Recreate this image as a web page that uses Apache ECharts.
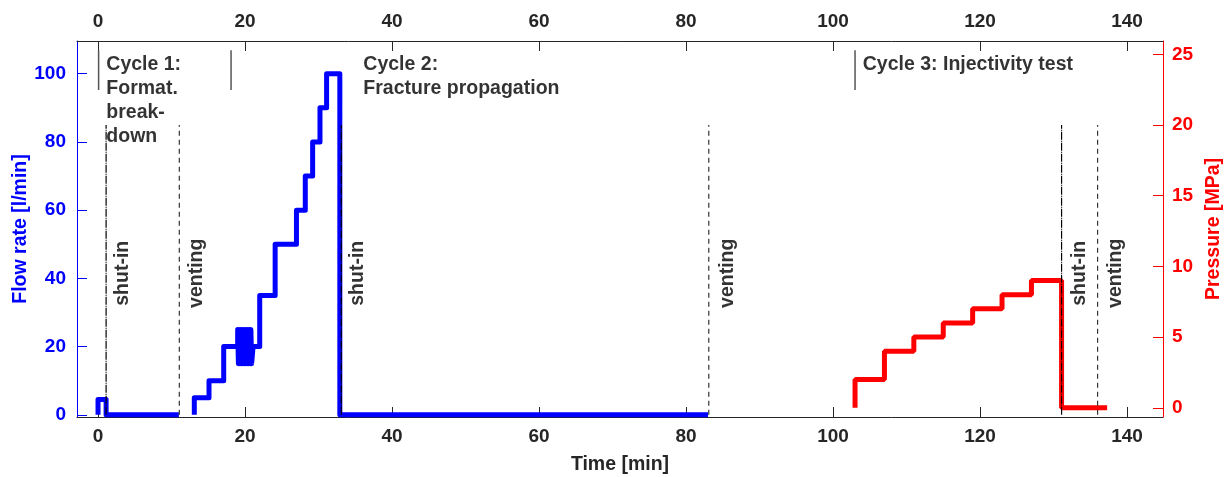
<!DOCTYPE html>
<html>
<head>
<meta charset="utf-8">
<script src="https://cdn.jsdelivr.net/npm/echarts@6/dist/echarts.min.js"></script>
<style>
  html, body { margin: 0; padding: 0; background: #fff; }
  #chart { width: 1231px; height: 477px; }
</style>
</head>
<body>
<div id="chart"></div>
<script>
// time axis ticks [min]
var timeTicks = [0, 20, 40, 60, 80, 100, 120, 140];
var flowTicks = [0, 20, 40, 60, 80, 100];
var pressureTicks = [0, 5, 10, 15, 20, 25];

// flow rate, cycle 1 (value holds until the next time)
var flowTime1 = [0, 0, 1.1, 11];
var flowRate1 = [0, 4.5, 0, 0];

// flow rate, cycle 2 (the 19-21 min part flickers between 15 and 25)
var flowTime2 = [13.1, 13.1, 15.1, 17.1,
  19.0, 19.1, 19.2, 19.3, 19.4, 19.5, 19.6, 19.7, 19.8, 19.9,
  20.0, 20.1, 20.2, 20.3, 20.4, 20.5, 20.6, 20.7, 20.8, 20.9,
  21.1, 22.0, 24.1, 27.0, 28.2, 29.2, 30.2, 31.1, 32.9, 83.0];
var flowRate2 = [0, 5, 10, 20,
  25, 15, 25, 15, 25, 15, 25, 15, 25, 15,
  25, 15, 25, 15, 25, 15, 25, 15, 25, 15,
  20, 35, 50, 60, 70, 80, 90, 100, 0, 0];

// pressure, cycle 3 (injectivity test)
var pressTime = [103, 103, 107, 111, 115, 119, 123, 127, 131.1, 137.3];
var pressValue = [0, 2, 4, 5, 6, 7, 8, 9, 0, 0];

// shut-in / venting events
var eventTime = [1.1, 11.06, 33.1, 83.1, 131.1, 136];
var eventName = ["shut-in", "venting", "shut-in", "venting", "shut-in", "venting"];
var eventLabelTime = [3.4, 13.4, 35.3, 85.6, 133.6, 138.4];
var eventTop = 85;
var eventLabelFlow = 41.5;

// cycle separators and titles
var cycleTime = [0.08, 18.1, 103];
var cycleLineFlow = [95.2, 106.9];
var cycleTextTime = [1.13, 36.1, 104.05];
var cycleTextFlow = 106.1;
var cycleText = ["Cycle 1:\nFormat.\nbreak-\ndown", "Cycle 2:\nFracture propagation", "Cycle 3: Injectivity test"];

var FONT = "'Liberation Sans', Arial, sans-serif";

function pairs(xs, ys) {
  var out = [];
  for (var i = 0; i < xs.length; i++) out.push([xs[i], ys[i]]);
  return out;
}

var series = [
  {
    name: "flow1", type: "line", step: "end", symbol: "none",
    xAxisIndex: 0, yAxisIndex: 0,
    data: pairs(flowTime1, flowRate1),
    lineStyle: { color: "#0000ff", width: 5, join: "round" },
    z: 5,
  },
  {
    name: "flow2", type: "line", step: "end", symbol: "none",
    xAxisIndex: 0, yAxisIndex: 0,
    data: pairs(flowTime2, flowRate2),
    lineStyle: { color: "#0000ff", width: 5, join: "round" },
    z: 5,
  },
  {
    name: "pressure", type: "line", step: "end", symbol: "none",
    xAxisIndex: 0, yAxisIndex: 1,
    data: pairs(pressTime, pressValue),
    lineStyle: { color: "#ff0000", width: 5 },
    z: 5,
  },
];

// vertical event lines
eventTime.forEach(function (t, i) {
  var isShut = eventName[i] == "shut-in";
  series.push({
    type: "line", symbol: "none", silent: true,
    xAxisIndex: 0, yAxisIndex: 0,
    data: [[t, 0], [t, eventTop]],
    lineStyle: {
      color: isShut ? "#000" : "#333",
      width: 1.2,
      type: isShut ? [8, 1, 1, 1] : [5, 4],
    },
    z: 6,
  });
});

// cycle separator lines
cycleTime.forEach(function (t) {
  series.push({
    type: "line", symbol: "none", silent: true,
    xAxisIndex: 0, yAxisIndex: 0,
    data: [[t, cycleLineFlow[0]], [t, cycleLineFlow[1]]],
    lineStyle: { color: "#555", width: 1.5 },
  });
});

// event labels (rotated)
series.push({
  type: "scatter", symbolSize: 0, silent: true,
  xAxisIndex: 0, yAxisIndex: 0,
  data: eventLabelTime.map(function (t, i) {
    return { value: [t, eventLabelFlow], name: eventName[i] };
  }),
  label: {
    show: true, position: "inside", rotate: 90,
    align: "center", verticalAlign: "middle",
    formatter: "{b}",
    color: "#000", fontFamily: FONT, fontWeight: "bold", fontSize: 19.5,
  },
  z: 7,
});

// cycle titles
series.push({
  type: "scatter", symbolSize: 0, silent: true,
  xAxisIndex: 0, yAxisIndex: 0,
  data: cycleTextTime.map(function (t, i) {
    return { value: [t, cycleTextFlow], name: cycleText[i] };
  }),
  label: {
    show: true, position: [0, 0],
    align: "left", verticalAlign: "top",
    formatter: "{b}", lineHeight: 24,
    color: "#000", fontFamily: FONT, fontWeight: "bold", fontSize: 19.5,
  },
  z: 7,
});

var xCommon = {
  type: "value", min: -2.86, max: 144.9,
  splitLine: { show: false },
  axisLine: { show: true, onZero: false, lineStyle: { color: "#262626", width: 1 } },
  axisTick: { show: true, inside: true, length: 10, customValues: timeTicks, lineStyle: { color: "#262626" } },
  axisLabel: { customValues: timeTicks, color: "#262626", fontFamily: FONT, fontWeight: "bold", fontSize: 19, margin: 10 },
};

var option = {
  animation: false,
  backgroundColor: "#fff",
  grid: { left: 77, right: 68, top: 41, bottom: 60, outerBoundsMode: "none" },
  xAxis: [
    Object.assign({}, xCommon, {
      position: "bottom",
      name: "Time [min]", nameLocation: "middle", nameGap: 38, nameMoveOverlap: false,
      nameTextStyle: { color: "#262626", fontFamily: FONT, fontWeight: "bold", fontSize: 19.5 },
    }),
    Object.assign({}, xCommon, { position: "top" }),
  ],
  yAxis: [
    {
      type: "value", position: "left", min: -0.65, max: 109.6,
      name: "Flow rate [l/min]", nameLocation: "middle", nameGap: 46, nameMoveOverlap: false,
      nameTextStyle: { color: "#0000ff", fontFamily: FONT, fontWeight: "bold", fontSize: 19.5 },
      splitLine: { show: false },
      axisLine: { show: true, onZero: false, lineStyle: { color: "#0000ff", width: 1 } },
      axisTick: { show: true, inside: true, length: 10, customValues: flowTicks, lineStyle: { color: "#0000ff" } },
      axisLabel: { customValues: flowTicks, color: "#0000ff", fontFamily: FONT, fontWeight: "bold", fontSize: 19, margin: 11 },
    },
    {
      type: "value", position: "right", min: -0.65, max: 25.94,
      name: "Pressure [MPa]", nameLocation: "middle", nameGap: 41, nameMoveOverlap: false,
      nameTextStyle: { color: "#ff0000", fontFamily: FONT, fontWeight: "bold", fontSize: 19.5 },
      splitLine: { show: false },
      axisLine: { show: true, onZero: false, lineStyle: { color: "#ff0000", width: 1 } },
      axisTick: { show: true, inside: true, length: 10, customValues: pressureTicks, lineStyle: { color: "#ff0000" } },
      axisLabel: { customValues: pressureTicks, color: "#ff0000", fontFamily: FONT, fontWeight: "bold", fontSize: 19, margin: 9 },
    },
  ],
  series: series,
};

var myChart = echarts.init(document.getElementById("chart"));
myChart.setOption(option);
window.onresize = function () {
  myChart.resize();
};
</script>
</body>
</html>
